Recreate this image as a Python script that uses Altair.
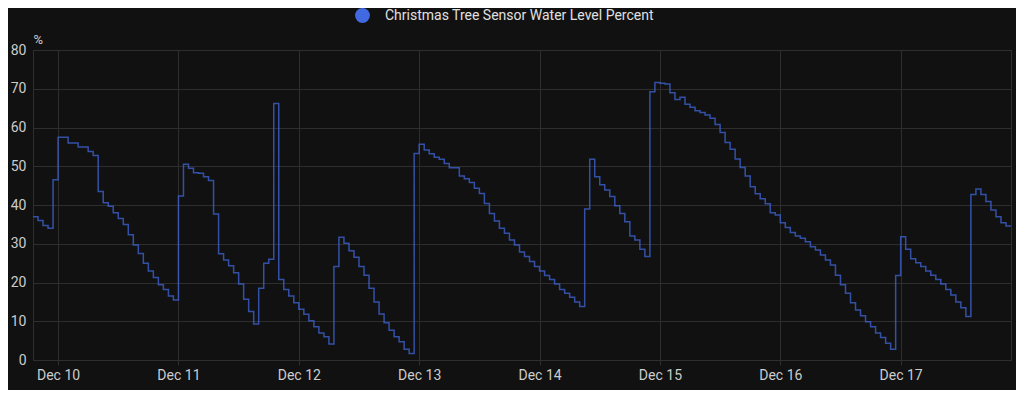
import altair as alt
import pandas as pd

series_name = "Christmas Tree Sensor Water Level Percent"
start_time = "2023-12-09T19:00:00Z"  # hourly readings

# Dec 9 19:00 -> Dec 9 23:00
dec09 = [37, 36, 34.7, 34, 46.5]
# Dec 10, hours 0..23
dec10 = [57.5, 57.5, 56, 56, 55, 55, 53.8, 52.8, 43.5, 40.6, 39.7, 38,
         36.5, 35, 32.3, 29.7, 27.5, 25, 23, 21.3, 19.4, 18.2, 16.5, 15.5]
# Dec 11
dec11 = [42.3, 50.5, 49.5, 48.3, 48.2, 47.3, 46.3, 37.7, 27.4, 25.8, 24.3, 22.5,
         19.6, 15.7, 12.5, 9.3, 18.5, 25, 26, 66.2, 20.8, 18.2, 16.5, 14.8]
# Dec 12
dec12 = [13.1, 11.8, 10.1, 8.6, 7, 6, 4.1, 24.1, 31.7, 30.1, 28.2, 26.5,
         24.1, 21.9, 18.5, 15, 11.9, 9.6, 7.7, 6, 4.7, 2.8, 1.7, 53.3]
# Dec 13
dec13 = [55.7, 54.2, 53.2, 52.3, 51.8, 50.7, 49.6, 49.6, 47.5, 46.8, 45.8, 44.3,
         43, 40.4, 37.8, 35.9, 34, 32.7, 31, 29.7, 27.9, 26.7, 25.4, 24.1]
# Dec 14
dec14 = [23, 21.8, 20.8, 19.6, 18.2, 17.2, 16.2, 15, 13.8, 39, 51.8, 47.3,
         45.2, 43.9, 42.2, 39.8, 37.8, 35.7, 32, 31, 28.6, 26.7, 69.2, 71.6]
# Dec 15
dec15 = [71.4, 71.2, 69, 67.2, 67.8, 66, 65.2, 64.3, 63.9, 63.2, 62.4, 60.8,
         58.7, 56.1, 54.4, 51.9, 49.7, 47.5, 44.7, 42.9, 41.6, 40.3, 38, 37.4]
# Dec 16
dec16 = [35.4, 34.2, 32.9, 32, 31.4, 30.5, 29.2, 28.4, 27.1, 25.8, 24.5, 21.9,
         19.4, 17.2, 14.8, 12.9, 11.4, 9.9, 8.6, 7, 5.8, 4.3, 2.8, 21.8]
# Dec 17, hours 0..22
dec17 = [31.8, 28.6, 26.1, 25.1, 24.1, 23, 21.9, 20.8, 19.6, 18.2, 16.8, 15,
         13.5, 11.2, 42.7, 44.1, 42.7, 40.9, 38.7, 37, 35.4, 34.6, 34.6]

water_level = dec09 + dec10 + dec11 + dec12 + dec13 + dec14 + dec15 + dec16 + dec17
day_ticks = [10, 11, 12, 13, 14, 15, 16, 17]
y_ticks = [0, 10, 20, 30, 40, 50, 60, 70, 80]

times = pd.date_range(start_time, periods=len(water_level), freq="h")
df = pd.DataFrame({
    "time": times.strftime("%Y-%m-%dT%H:%M:%SZ"),
    "level": water_level,
    "series": series_name,
})

grid = "#2e2e2e"
label_col = "#cccccc"
font = "Roboto"

x_domain = [
    alt.DateTime(year=2023, month=12, date=9, hours=19, utc=True),
    alt.DateTime(year=2023, month=12, date=17, hours=22, utc=True),
]

chart = alt.Chart(df).mark_line(
    interpolate="step-after", strokeWidth=1.5, opacity=0.72
).encode(
    x=alt.X(
        "time:T",
        scale=alt.Scale(type="utc", domain=x_domain),
        axis=alt.Axis(
            values=[alt.DateTime(year=2023, month=12, date=d, utc=True) for d in day_ticks],
            format="%b %d",
            title=None,
            domain=False,
            ticks=True,
            tickSize=5,
            tickColor=grid,
            grid=True,
            gridColor=grid,
            labelColor=label_col,
            labelFont=font,
            labelFontSize=14,
            labelPadding=3,
        ),
    ),
    y=alt.Y(
        "level:Q",
        scale=alt.Scale(domain=[0, 80]),
        axis=alt.Axis(
            values=y_ticks,
            title="%",
            titleAngle=0,
            titleX=0,
            titleY=-11,
            titleAlign="left",
            titleBaseline="middle",
            titleColor=label_col,
            titleFont=font,
            titleFontSize=13,
            titleFontWeight="normal",
            domain=False,
            ticks=False,
            grid=True,
            gridColor=grid,
            labelColor=label_col,
            labelFont=font,
            labelFontSize=14,
            labelPadding=7,
        ),
    ),
    color=alt.Color(
        "series:N",
        scale=alt.Scale(range=["#4169e1"]),
        legend=alt.Legend(
            orient="none",
            legendX=322,
            legendY=-42,
            title=None,
            symbolType="circle",
            symbolSize=220,
            symbolFillColor="#4169e1",
            symbolStrokeWidth=0,
            symbolOpacity=1,
            labelFont=font,
            labelFontSize=14,
            labelColor="#e0e0e0",
            labelOffset=15,
            labelLimit=0,
            padding=0,
        ),
    ),
).properties(
    width=978,
    height=310,
    padding={"left": 25, "top": 42, "right": 5, "bottom": 30},
    autosize=alt.AutoSizeParams(type="none"),
    background="#111111",
).configure_view(
    stroke=grid,
    strokeWidth=1,
)

chart.save("out.html", embed_options={"renderer": "svg", "actions": False})
